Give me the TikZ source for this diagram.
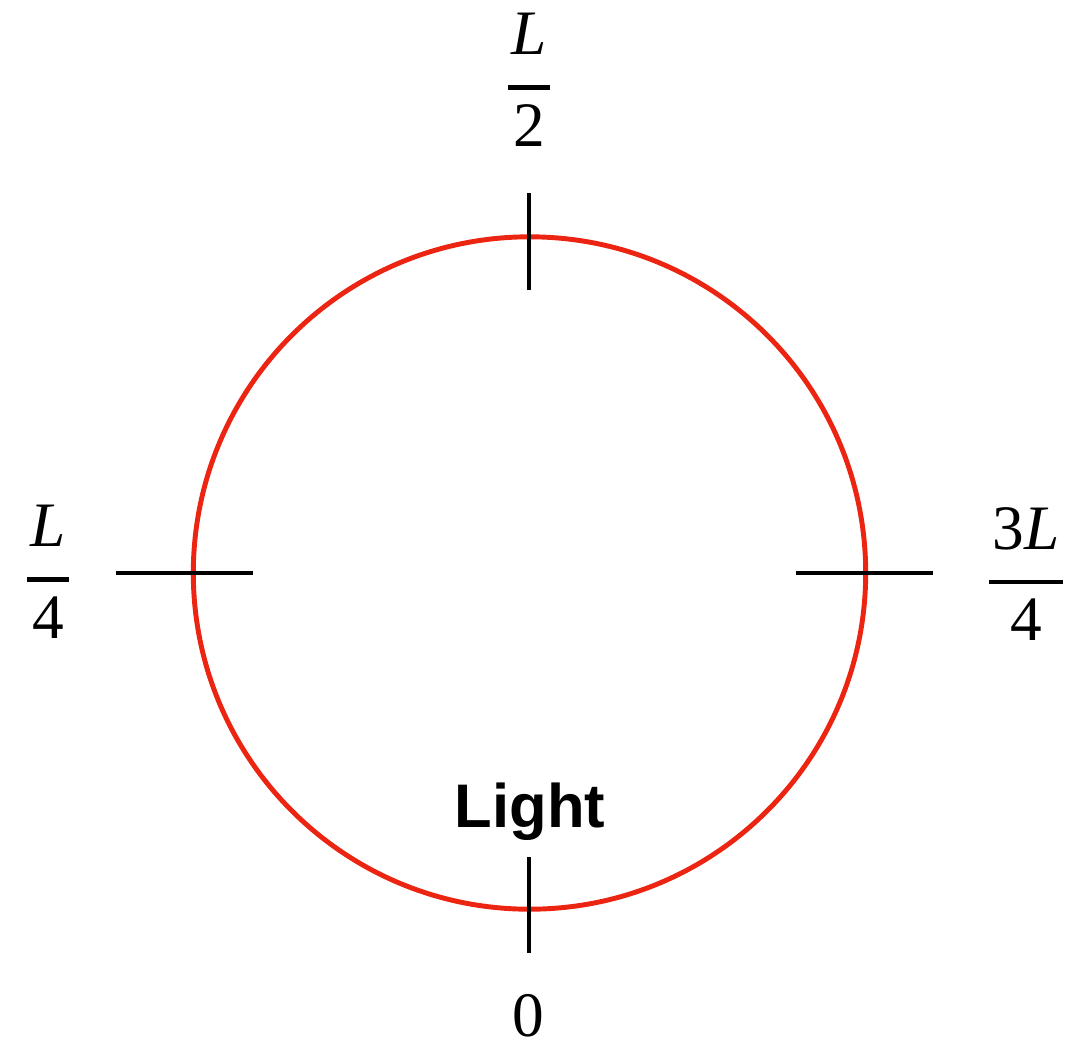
\documentclass[tikz,border=0pt]{standalone}
\usepackage{amsmath}
\usepackage{fontspec}
\setmainfont{Liberation Serif}
\newfontfamily\lightfont{Liberation Sans}
\definecolor{ringred}{RGB}{236,36,18}
\newcommand{\myfrac}[2]{$\displaystyle\genfrac{}{}{1.4pt}{0}{\raisebox{2pt}{\kern1pt#1\kern1pt}}{\mbox{#2}}$}
\begin{document}
\begin{tikzpicture}[x=0.01cm,y=-0.01cm,
  ringstyle/.style={draw=ringred,line width=1.4pt,circle,minimum size=6.72cm,inner sep=0pt,outer sep=0pt},
  tickline/.style={draw=black,line width=1.4pt},
  lbl/.style={font=\fontsize{18}{22}\selectfont,inner sep=0pt,outer sep=0pt}]
\useasboundingbox (0,0) rectangle (1082,1045);
\node[ringstyle] (ring) at (529.5,573) {};
% tick ends
\coordinate (t1) at (529,193); \coordinate (t2) at (529,290);
\coordinate (l1) at (116,573); \coordinate (l2) at (253,573);
\coordinate (r1) at (796,573); \coordinate (r2) at (933,573);
\coordinate (b1) at (529,857); \coordinate (b2) at (529,953);
\draw[tickline] (t1) -- (t2);
\draw[tickline] (l1) -- (l2);
\draw[tickline] (r1) -- (r2);
\draw[tickline] (b1) -- (b2);
% labels
\node[lbl] (half) at (529,80) {\myfrac{\itshape L}{2}};
\node[lbl] (quarter) at (48,572) {\myfrac{\itshape L}{4}};
\node[lbl] (threeq) at (1026,574) {\myfrac{3\itshape L}{4}};
\node[lbl,anchor=base] (zero) at (528,1036) {0};
\node[font=\lightfont\bfseries\fontsize{17.5}{21}\selectfont,inner sep=0pt,anchor=base] (light) at (530,827) {Light};
\end{tikzpicture}
\end{document}
